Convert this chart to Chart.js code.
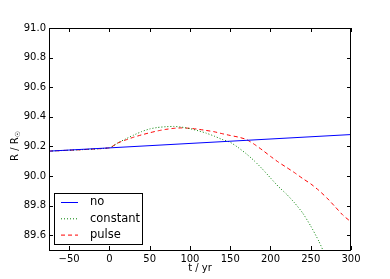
<!DOCTYPE html>
<html lang="en">
<head>
<meta charset="UTF-8">
<title>R vs t</title>
<script src="https://cdn.jsdelivr.net/npm/chart.js"></script>
<style>
  html, body { margin: 0; padding: 0; background: #ffffff; }
  #chart { display: block; }
</style>
</head>
<body>
<canvas id="chart" width="390" height="279"></canvas>
<script>
// series
const noT = [-75, 0, 300];
const noR = [90.168, 90.190, 90.280];

const constantT = [-75, 0, 10, 20, 30, 40, 50, 60, 70, 80, 90, 100, 110, 120, 130, 140, 150,
                   160, 170, 180, 190, 200, 210, 220, 230, 240, 250, 260, 270];
const constantR = [90.168, 90.190, 90.222, 90.250, 90.276, 90.300, 90.318, 90.328, 90.333, 90.335,
                   90.330, 90.320, 90.306, 90.290, 90.270, 90.247, 90.228, 90.192, 90.150, 90.102,
                   90.047, 89.987, 89.928, 89.877, 89.818, 89.750, 89.662, 89.560, 89.440];

const pulseT = [-75, 0, 10, 20, 30, 40, 50, 60, 70, 80, 90, 100, 110, 120, 130, 140, 150,
                160, 170, 180, 190, 200, 210, 220, 230, 240, 250, 260, 270, 280, 290, 300];
const pulseR = [90.168, 90.190, 90.222, 90.243, 90.262, 90.278, 90.292, 90.305, 90.315, 90.322,
                90.325, 90.322, 90.316, 90.308, 90.299, 90.286, 90.274, 90.263, 90.247, 90.214,
                90.175, 90.133, 90.093, 90.058, 90.022, 89.983, 89.947, 89.903, 89.852, 89.794,
                89.735, 89.690];

const xTicks = [-50, 0, 50, 100, 150, 200, 250, 300];
const yTicks = [89.6, 89.8, 90.0, 90.2, 90.4, 90.6, 90.8, 91.0];

const FONT = 'DejaVu Sans';

function pts(ts, rs) {
    return ts.map((t, i) => ({ x: t, y: rs[i] }));
}

// frame, inward ticks, axis titles and the legend box
const framePlugin = {
    id: 'frame',
    afterDraw(chart) {
        const ctx = chart.ctx;
        const a = chart.chartArea;
        const xs = chart.scales.x, ys = chart.scales.y;
        ctx.save();
        ctx.strokeStyle = '#000000';
        ctx.lineWidth = 1;
        ctx.strokeRect(Math.round(a.left) + 0.5, Math.round(a.top) + 0.5,
                       Math.round(a.right - a.left) - 1, Math.round(a.bottom - a.top));
        ctx.beginPath();
        xTicks.forEach(v => {
            const px = Math.round(xs.getPixelForValue(v)) + 0.5;
            ctx.moveTo(px, a.bottom); ctx.lineTo(px, a.bottom - 4);
            ctx.moveTo(px, a.top); ctx.lineTo(px, a.top + 4);
        });
        yTicks.forEach(v => {
            const py = Math.round(ys.getPixelForValue(v)) + 0.5;
            ctx.moveTo(a.left, py); ctx.lineTo(a.left + 4, py);
            ctx.moveTo(a.right, py); ctx.lineTo(a.right - 4, py);
        });
        ctx.stroke();

        // x title
        ctx.fillStyle = '#000000';
        ctx.font = '10px "' + FONT + '"';
        ctx.textAlign = 'center';
        ctx.textBaseline = 'middle';
        ctx.fillText('t / yr', (a.left + a.right) / 2, 268);

        // y title  R / R_sun
        ctx.save();
        ctx.translate(15, 146);
        ctx.rotate(-Math.PI / 2);
        ctx.textAlign = 'left';
        const main = 'R / R';
        ctx.font = '10px "' + FONT + '"';
        const w1 = ctx.measureText(main).width;
        ctx.font = '7px "' + FONT + '"';
        const w2 = ctx.measureText('\u2609').width;
        const x0 = -(w1 + w2) / 2;
        ctx.font = '10px "' + FONT + '"';
        ctx.fillText(main, x0, 0);
        ctx.font = '7px "' + FONT + '"';
        ctx.fillText('\u2609', x0 + w1, 3);
        ctx.restore();

        // legend
        ctx.fillStyle = '#ffffff';
        ctx.fillRect(54.5, 193.5, 88, 51);
        ctx.strokeStyle = '#000000';
        ctx.strokeRect(54.5, 193.5, 88, 51);
        chart.data.datasets.forEach((ds, i) => {
            const y = 202.5 + 16.3 * i;
            ctx.beginPath();
            ctx.strokeStyle = ds.borderColor;
            ctx.setLineDash(ds.borderDash || []);
            ctx.moveTo(61, y); ctx.lineTo(78, y);
            ctx.stroke();
            ctx.setLineDash([]);
            ctx.fillStyle = '#000000';
            ctx.font = '11.5px "' + FONT + '"';
            ctx.textAlign = 'left';
            ctx.textBaseline = 'middle';
            ctx.fillText(ds.label, 90, y);
        });
        ctx.restore();
    }
};

new Chart(document.getElementById('chart'), {
    type: 'line',
    data: {
        datasets: [
            { label: 'no', data: pts(noT, noR), borderColor: '#0000ff', borderWidth: 1, tension: 0 },
            { label: 'constant', data: pts(constantT, constantR), borderColor: '#008000', borderWidth: 1,
              borderDash: [1, 2], tension: 0.2 },
            { label: 'pulse', data: pts(pulseT, pulseR), borderColor: '#ff0000', borderWidth: 1,
              borderDash: [4, 3], tension: 0.2 }
        ]
    },
    options: {
        responsive: false,
        animation: false,
        layout: { padding: { top: 28, right: 39, left: 0, bottom: 0 } },
        elements: { point: { radius: 0, hoverRadius: 0 } },
        plugins: { legend: { display: false }, tooltip: { enabled: false } },
        scales: {
            x: {
                type: 'linear',
                min: -75, max: 300,
                afterBuildTicks: s => { s.ticks = xTicks.map(v => ({ value: v })); },
                afterFit: s => { s.height = 29; },
                grid: { display: false, drawTicks: false },
                border: { display: false },
                ticks: {
                    color: '#000000', padding: 3, maxRotation: 0,
                    font: { family: FONT, size: 10 },
                    callback: v => (v < 0 ? '\u2212' + Math.abs(v) : String(v))
                }
            },
            y: {
                min: 89.5, max: 91.0,
                afterBuildTicks: s => { s.ticks = yTicks.map(v => ({ value: v })); },
                afterFit: s => { s.width = 49; },
                grid: { display: false, drawTicks: false },
                border: { display: false },
                ticks: {
                    color: '#000000', padding: 3,
                    font: { family: FONT, size: 10 },
                    callback: v => v.toFixed(1)
                }
            }
        }
    },
    plugins: [framePlugin]
});
</script>
</body>
</html>
